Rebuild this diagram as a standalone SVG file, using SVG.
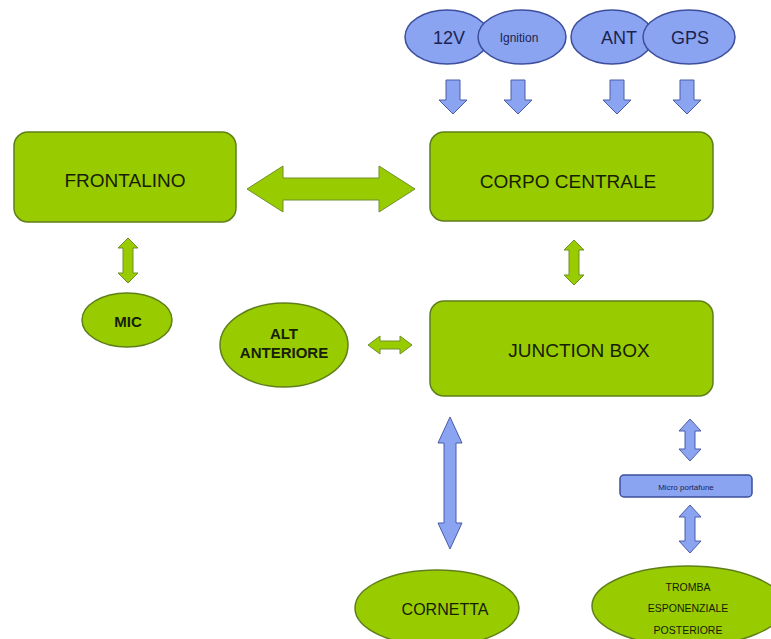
<svg xmlns="http://www.w3.org/2000/svg" width="771" height="639" viewBox="0 0 771 639">
<style>
.g{fill:#99cc00;stroke:#5f7f1a;stroke-width:1.5}
.b{fill:#8aa4f2;stroke:#3d4f9c;stroke-width:1.5}
.ga{fill:#99cc00;stroke:#6f8f2a;stroke-width:1}
.ba{fill:#8aa4f2;stroke:#4a5ca8;stroke-width:1}
text{font-family:"Liberation Sans",Arial,sans-serif;fill:#152005;text-anchor:middle}
.bt{fill:#1c2350}
.bd{font-weight:bold}
</style>
<rect width="771" height="639" fill="#ffffff"/>
<g id="n12v"><ellipse class="b" cx="447" cy="37" rx="42" ry="27"/><text class="bt" x="449" y="44" font-size="18">12V</text></g>
<g id="nign"><ellipse class="b" cx="522" cy="37" rx="44" ry="27"/><text class="bt" x="519" y="42" font-size="12">Ignition</text></g>
<g id="nant"><ellipse class="b" cx="612" cy="37" rx="41" ry="27"/><text class="bt" x="619" y="44" font-size="18">ANT</text></g>
<g id="ngps"><ellipse class="b" cx="689" cy="37" rx="46" ry="27"/><text class="bt" x="690" y="44" font-size="18">GPS</text></g>
<g id="nfront"><rect class="g" x="14" y="132" width="222" height="90" rx="14"/><text x="125" y="187" font-size="19">FRONTALINO</text></g>
<g id="ncorpo"><rect class="g" x="430" y="132" width="283" height="89" rx="14"/><text x="568" y="188" font-size="19">CORPO CENTRALE</text></g>
<g id="njunction"><rect class="g" x="430" y="301" width="283" height="95" rx="14"/><text x="579" y="357" font-size="19">JUNCTION BOX</text></g>
<g id="nmic"><ellipse class="g" cx="127" cy="320" rx="45" ry="27"/><text class="bd" x="128" y="327" font-size="15">MIC</text></g>
<g id="nalt"><ellipse class="g" cx="284" cy="345" rx="64" ry="42"/><text class="bd" x="284" y="339" font-size="15">ALT</text><text class="bd" x="284" y="358" font-size="15">ANTERIORE</text></g>
<g id="ncornetta"><ellipse class="g" cx="437" cy="608" rx="82" ry="38"/><text x="445" y="615" font-size="16">CORNETTA</text></g>
<g id="nmicro"><rect class="b" x="620" y="475" width="132" height="22" rx="4"/><text class="bt" x="686" y="490" font-size="8">Micro portafune</text></g>
<g id="ntromba"><ellipse class="g" cx="688" cy="606" rx="96" ry="40"/><text x="688" y="591" font-size="10.5">TROMBA</text><text x="688" y="612" font-size="10.5">ESPONENZIALE</text><text x="688" y="634" font-size="10.5">POSTERIORE</text></g>
<g id="connectors">
<path class="ba" d="M446,80 h14 v20 h7 l-14,14 l-14,-14 h7 z"/>
<path class="ba" d="M511,80 h14 v20 h7 l-14,14 l-14,-14 h7 z"/>
<path class="ba" d="M610,80 h14 v20 h7 l-14,14 l-14,-14 h7 z"/>
<path class="ba" d="M680,80 h14 v20 h7 l-14,14 l-14,-14 h7 z"/>
<path class="ga" d="M247,189 L283,166 V178 H379 V166 L415,189 L379,212 V200 H283 V212 Z"/>
<path class="ga" d="M128,238 L138,248 H133 V273 H138 L128,283 L118,273 H123 V248 H118 Z"/>
<path class="ga" d="M574,240 L584,250 H579 V275 H584 L574,285 L564,275 H569 V250 H564 Z"/>
<path class="ga" d="M368,345 L380,336 V341 H400 V336 L412,345 L400,354 V349 H380 V354 Z"/>
<path class="ba" d="M450,417 L462,443 H456 V523 H462 L450,549 L438,523 H444 V443 H438 Z"/>
<path class="ba" d="M690,419 L701,431 H695 V449 H701 L690,461 L679,449 H685 V431 H679 Z"/>
<path class="ba" d="M690,505 L701,517 H695 V541 H701 L690,553 L679,541 H685 V517 H679 Z"/>
</g>
</svg>
